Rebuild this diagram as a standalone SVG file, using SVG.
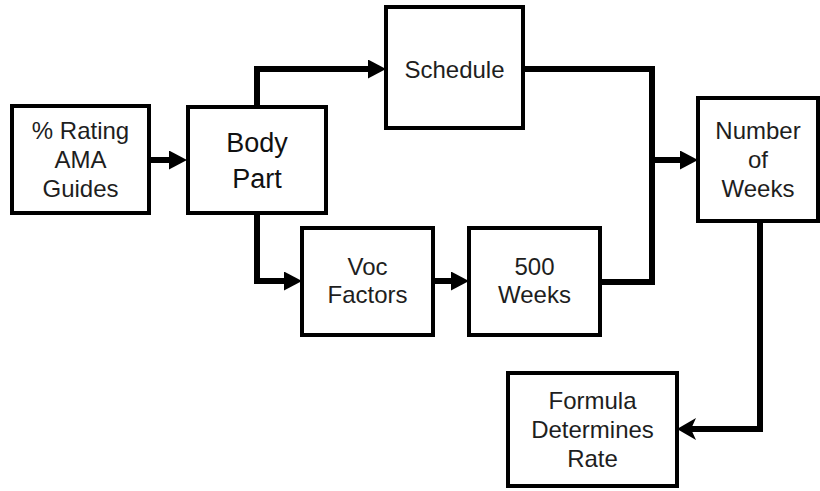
<svg xmlns="http://www.w3.org/2000/svg" width="820" height="491" viewBox="0 0 820 491">
  <style>
    .box { fill: #ffffff; stroke: #000000; stroke-width: 4; }
    .lbl { font-family: "Liberation Sans", Arial, sans-serif; font-size: 24px; fill: #1e1e1e; text-anchor: middle; }
    .big { font-size: 27px; fill: #111111; }
    .wire { fill: none; stroke: #000000; stroke-width: 6; stroke-linejoin: miter; }
  </style>
  <defs>
    <marker id="head" markerUnits="userSpaceOnUse" markerWidth="20" markerHeight="20" refX="8" refY="9.5" orient="auto">
      <path d="M0,0 L18,9.5 L0,19 Z" fill="#000000"/>
    </marker>
    <marker id="notched" markerUnits="userSpaceOnUse" markerWidth="22" markerHeight="24" refX="8" refY="11" orient="auto">
      <path d="M0,0 L19,11 L0,22 L5,11 Z" fill="#000000"/>
    </marker>
  </defs>

  <rect width="820" height="491" fill="#ffffff"/>

  <g id="connectors">
    <path class="wire" d="M149,160 H177" marker-end="url(#head)"/>
    <path class="wire" d="M257,108 V69 H376" marker-end="url(#head)"/>
    <path class="wire" d="M257,212 V281 H292" marker-end="url(#head)"/>
    <path class="wire" d="M433,281 H459" marker-end="url(#head)"/>
    <path class="wire" d="M523,69 H652 V160 H688" marker-end="url(#head)"/>
    <path class="wire" d="M600,282 H652 V160"/>
    <path class="wire" d="M760,221 V429 H688" marker-end="url(#notched)"/>
  </g>

  <g id="rating">
    <rect class="box" x="12" y="106" width="137" height="107"/>
    <text class="lbl" x="80.5" y="139">% Rating</text>
    <text class="lbl" x="80.5" y="168">AMA</text>
    <text class="lbl" x="80.5" y="197">Guides</text>
  </g>

  <g id="body-part">
    <rect class="box" x="188" y="107" width="138" height="106"/>
    <text class="lbl big" x="257" y="152">Body</text>
    <text class="lbl big" x="257" y="188">Part</text>
  </g>

  <g id="schedule">
    <rect class="box" x="386" y="7" width="137" height="121"/>
    <text class="lbl" x="454.5" y="78">Schedule</text>
  </g>

  <g id="voc-factors">
    <rect class="box" x="302" y="228" width="131" height="107"/>
    <text class="lbl" x="367.5" y="275">Voc</text>
    <text class="lbl" x="367.5" y="303">Factors</text>
  </g>

  <g id="weeks-500">
    <rect class="box" x="469" y="228" width="131" height="107"/>
    <text class="lbl" x="534.5" y="275">500</text>
    <text class="lbl" x="534.5" y="303">Weeks</text>
  </g>

  <g id="number-of-weeks">
    <rect class="box" x="698" y="98" width="120" height="123"/>
    <text class="lbl" x="758" y="139">Number</text>
    <text class="lbl" x="758" y="168">of</text>
    <text class="lbl" x="758" y="197">Weeks</text>
  </g>

  <g id="formula">
    <rect class="box" x="508" y="373" width="169" height="113"/>
    <text class="lbl" x="592.5" y="409">Formula</text>
    <text class="lbl" x="592.5" y="438">Determines</text>
    <text class="lbl" x="592.5" y="467">Rate</text>
  </g>
</svg>
